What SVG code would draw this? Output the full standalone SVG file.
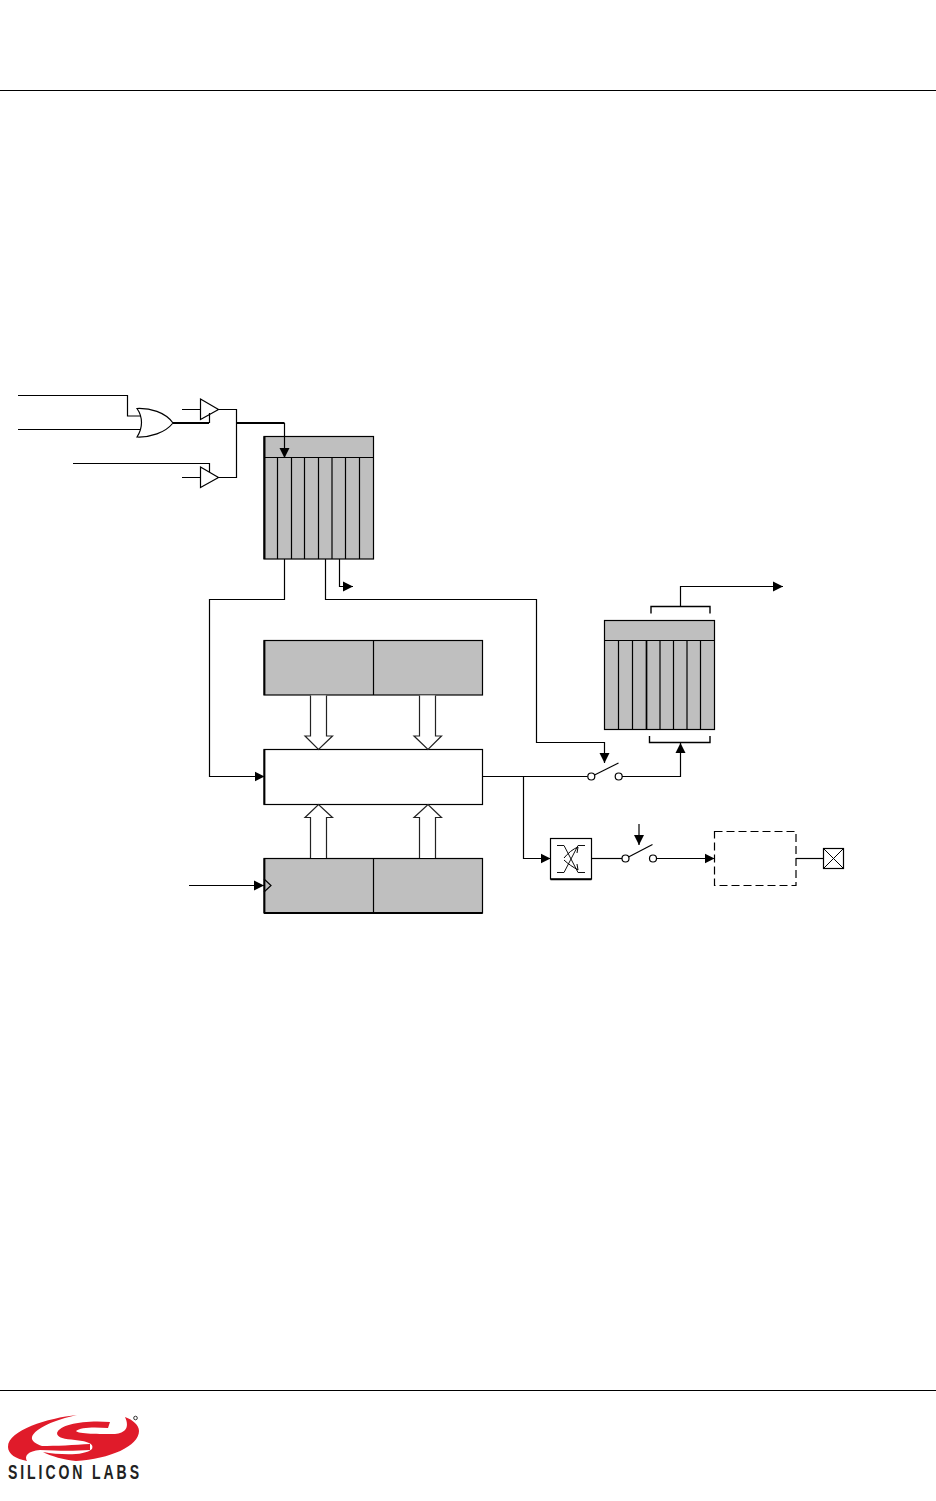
<svg xmlns="http://www.w3.org/2000/svg" width="936" height="1501" viewBox="0 0 936 1501">
<style>
.w{fill:none;stroke:#000;stroke-width:1.200}
.t{fill:none;stroke:#000;stroke-width:2.200}
.g{fill:#bfbfbf;stroke:#000;stroke-width:1.200}
.o{fill:#fff;stroke:#000;stroke-width:1.200}
.b{fill:#fff;stroke:#222;stroke-width:1.200}
.logo{fill:#e01b2a;stroke:none}
</style>
<defs>
<marker id="ah" markerWidth="11" markerHeight="11" refX="10" refY="5.500" orient="auto" markerUnits="userSpaceOnUse"><path d="M0,0.500 L10,5.500 L0,10.500 Z" fill="#000"/></marker>
</defs>
<rect width="936" height="1501" fill="#fff"/>
<g id="page-rules"><path class="w" d="M0,90.500H936M0,1390.500H936"/></g>
<g id="or-gate"><path class="o" d="M137,408.500C150,408 165,412 173,423C165,433 150,437.500 137,437C143,428 143,417 137,408.500Z"/></g>
<g id="buffer-1"><path class="o" d="M200.500,399L218.500,409.500L200.500,419.500Z"/></g>
<g id="buffer-2"><path class="o" d="M200.500,467L218.500,477.500L200.500,487.500Z"/></g>
<g id="register-top">
<rect class="g" x="264" y="436.500" width="109.500" height="122.500"/>
<path class="w" d="M264,457.500H373.500M277.500,457.500V559M291.500,457.500V559M304.500,457.500V559M318.500,457.500V559M332,457.500V559M345.500,457.500V559M359.500,457.500V559"/>
<path class="w" d="M264.500,436.500V559" style="stroke-width:2"/>
</g>
<g id="register-right">
<rect class="g" x="604.500" y="620.500" width="110" height="109"/>
<path class="w" d="M604.500,640.500H714.500M618.500,640.500V729.500M632.500,640.500V729.500M660,640.500V729.500M673.500,640.500V729.500M687,640.500V729.500M700.500,640.500V729.500"/>
<path class="t" d="M646.500,640.500V729.500" style="stroke-width:1.700"/>
<path class="w" d="M651,613.500V606.500H710V613.500" style="stroke-width:1.400"/>
<path class="w" d="M649.500,736V742.500H710V736" style="stroke-width:1.400"/>
</g>
<g id="accumulator-top">
<rect class="g" x="264" y="640.500" width="218.500" height="54.500"/>
<path class="w" d="M373.500,640.500V695"/>
<path class="w" d="M264.500,640.500V695" style="stroke-width:1.800"/>
</g>
<g id="alu"><rect class="o" x="264" y="749.500" width="218.500" height="55"/><path class="w" d="M264.500,749.500V804.500" style="stroke-width:1.800"/></g>
<g id="accumulator-bottom">
<rect class="g" x="264" y="858.500" width="218.500" height="54.500"/>
<path class="w" d="M373.500,858.500V913"/>
<path class="w" d="M264,913H482.500" style="stroke-width:2"/>
<path class="w" d="M264.500,858.500V913" style="stroke-width:1.800"/>
<path class="w" d="M264,879L271,885.500L264,892"/>
</g>
<g id="bus-arrows">
<path class="b" d="M310.500,695.500V736H305L318.500,749.500L332.500,736H326.500V695.500"/>
<path class="b" d="M419.500,695.500V736H414L428,749.500L441.500,736H435.500V695.500"/>
<path class="b" d="M310.500,858V817.500H305L318.500,804.500L332.500,817.500H326.500V858"/>
<path class="b" d="M419.500,858V817.500H414L428,804.500L441.500,817.500H435.500V858"/>
</g>
<g id="switch-1">
<circle class="o" cx="591.300" cy="776.500" r="3.500"/><circle class="o" cx="618.700" cy="776.500" r="3.500"/>
<path class="w" d="M594.500,775L618.500,763"/>
</g>
<g id="switch-2">
<circle class="o" cx="625.500" cy="858.500" r="3.500"/><circle class="o" cx="653" cy="858.500" r="3.500"/>
<path class="w" d="M628.500,857L652.500,844.500"/>
</g>
<g id="level-shifter">
<rect class="o" x="550.500" y="838.500" width="41" height="40.500"/>
<path class="w" d="M550.500,879.300H591.500" style="stroke-width:1.800"/>
<path d="M557,845.500H564L578,872.500H585M557,872.500H564L578,845.500H585" fill="none" stroke="#111" stroke-width="1"/>
<path class="w" d="M564,858C568,853 573,849 578,847M578,847L577,853M564,860C568,864 573,867 578,870M578,870L577,864" style="stroke-width:1"/>
</g>
<g id="output-driver"><rect x="714.500" y="831.500" width="81.500" height="54" fill="#fff" stroke="#000" stroke-width="1.200" stroke-dasharray="8 4"/></g>
<g id="pin"><rect class="o" x="823.500" y="848.500" width="20" height="20"/><path class="w" d="M823.500,848.500L843.500,868.500M843.500,848.500L823.500,868.500" style="stroke-width:1"/></g>
<g id="connectors">
<path class="w" d="M18,395.500H127.500V416H141M18,429.500H141"/>
<path class="t" d="M173,423H209"/>
<path class="w" d="M209.500,423V413M182,409.500H200.500M218,409.500H236.500V477.500H218M182,477.500H200.500M73,463.500H209.500V472"/>
<path class="t" d="M236,423H284.500"/>
<path class="w" d="M284.500,423V458" marker-end="url(#ah)"/>
<path class="w" d="M284.500,559V599.500H209.500V776.500H264.500" marker-end="url(#ah)"/>
<path class="w" d="M325.500,559V599.500H536.500V742.500H604.500V763" marker-end="url(#ah)"/>
<path class="w" d="M339.500,559V586.500H353" marker-end="url(#ah)"/>
<path class="w" d="M680.500,606.500V586.500H783" marker-end="url(#ah)"/>
<path class="w" d="M483,776.500H587.500M622,776.500H680.500V743" marker-end="url(#ah)"/>
<path class="w" d="M523.500,776.500V858.500H550.500" marker-end="url(#ah)"/>
<path class="w" d="M591.500,858.500H622"/>
<path class="w" d="M656.500,858.500H714.500" marker-end="url(#ah)"/>
<path class="w" d="M639,824V845" marker-end="url(#ah)"/>
<path class="w" d="M796,858.500H823.500"/>
<path class="w" d="M189,885.500H264" marker-end="url(#ah)"/>
</g>
<g id="logo">
<path class="logo" d="M77,1415C48,1418 8,1430 8,1447C8,1454 16,1459 27,1461C24,1456 28,1451 40,1450C60,1451 75,1451 90,1450L90,1444C75,1445 55,1446 42,1446C36,1444 31,1441 32,1437C35,1428 55,1420 77,1415Z"/>
<path class="logo" d="M125,1417C133,1420 139,1425 139,1431C139,1446 110,1459 76,1461C65,1460 50,1456 43,1452C60,1455 85,1456 92,1449C95,1443 85,1441 75,1440C65,1439 57,1438 57,1433C60,1424 85,1420 110,1422L108,1428C95,1427 80,1427 76,1431C78,1434 100,1434 115,1434C125,1433 130,1428 125,1417Z"/>
<circle cx="135.500" cy="1418" r="1.800" fill="none" stroke="#333" stroke-width="1"/>
<text transform="translate(8 1479) scale(0.72 1)" x="0" y="0" font-family="'Liberation Sans',sans-serif" font-weight="700" font-size="19.500" textLength="182" lengthAdjust="spacing" fill="#222">SILICON LABS</text>
</g>
</svg>
